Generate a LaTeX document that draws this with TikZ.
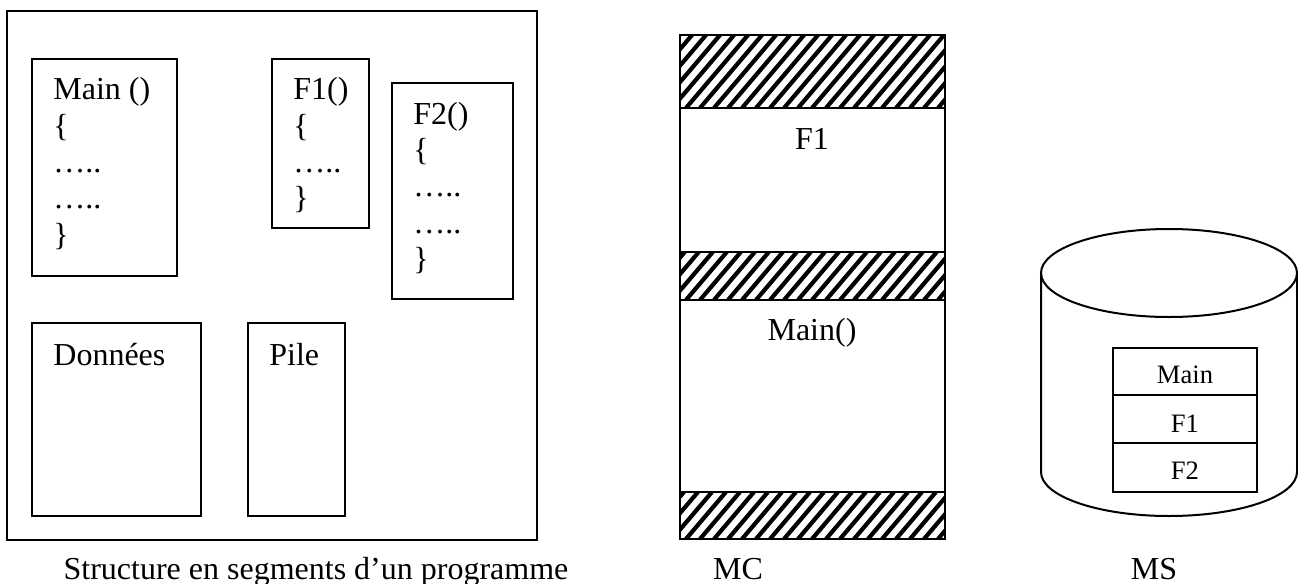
\documentclass[tikz,border=0pt]{standalone}
\usepackage{fontspec}
\setmainfont{Liberation Serif}
\begin{document}
\begin{tikzpicture}[x=0.5pt,y=-0.5pt,
  box/.style={draw=black,line width=1pt},
  big/.style={font=\fontsize{16}{18.4}\selectfont,inner sep=0pt},
  small/.style={font=\fontsize{13.3}{15}\selectfont,inner sep=0pt},
  codeline/.style={big,anchor=base west},
  label/.style={big,anchor=base},
  hatchline/.style={line width=2.1pt,black}]
\useasboundingbox (0,0) rectangle (1298,584);

% ---------- program segments ----------
\draw[box] (7,11) rectangle (537,540);
\draw[box] (32,59) rectangle (177,276);
\draw[box] (272,59) rectangle (369,228);
\draw[box] (392,83) rectangle (513,299);
\draw[box] (32,323) rectangle (201,516);
\draw[box] (248,323) rectangle (345,516);

\node[codeline] (m1) at (53,99) {Main ()};
\node[codeline] (m2) at (53,136) {\{};
\node[codeline] (m3) at (53,172) {…..};
\node[codeline] (m4) at (53,208) {…..};
\node[codeline] (m5) at (53,245) {\}};

\node[codeline] (a1) at (293,99) {F1()};
\node[codeline] (a2) at (293,136) {\{};
\node[codeline] (a3) at (293,172) {…..};
\node[codeline] (a4) at (293,208) {\}};

\node[codeline] (b1) at (413,124) {F2()};
\node[codeline] (b2) at (413,160) {\{};
\node[codeline] (b3) at (413,196) {…..};
\node[codeline] (b4) at (413,233) {…..};
\node[codeline] (b5) at (413,269) {\}};

\node[codeline] (don) at (53,365) {Données};
\node[codeline] (pil) at (269,365) {Pile};

\node[label] (cap1) at (316,579) {Structure en segments d’un programme};

% ---------- main memory ----------
\foreach \ya/\yb in {35/108, 252/300, 492/539}{
  \begin{scope}
    \clip (680,\ya) rectangle (945,\yb);
    \pgfmathsetmacro{\h}{\yb-\ya}
    \foreach \x in {560,574,...,960}{
      \draw[hatchline] (\x,\yb) -- ++(0.85*\h,-\h);
    }
  \end{scope}
}
\draw[box] (680,35) rectangle (945,539);
\draw[box] (680,108) -- (945,108);
\draw[box] (680,252) -- (945,252);
\draw[box] (680,300) -- (945,300);
\draw[box] (680,492) -- (945,492);

\node[label] (mcf1) at (812,149) {F1};
\node[label] (mcmain) at (812,340) {Main()};
\node[label] (cap2) at (738,579) {MC};

% ---------- secondary memory ----------
\draw[box] (1041,273) -- (1041,472)
  arc[start angle=180,end angle=360,x radius=64pt,y radius=22pt] -- (1297,273);
\draw[box] (1169,273) ellipse [x radius=64pt,y radius=22pt];

\draw[box] (1113,348) rectangle (1257,492);
\draw[box] (1113,395) -- (1257,395);
\draw[box] (1113,443) -- (1257,443);
\node[small,anchor=base] (msmain) at (1185,383) {Main};
\node[small,anchor=base] (msf1) at (1185,432) {F1};
\node[small,anchor=base] (msf2) at (1185,479) {F2};

\node[label] (cap3) at (1154,579) {MS};
\end{tikzpicture}
\end{document}
